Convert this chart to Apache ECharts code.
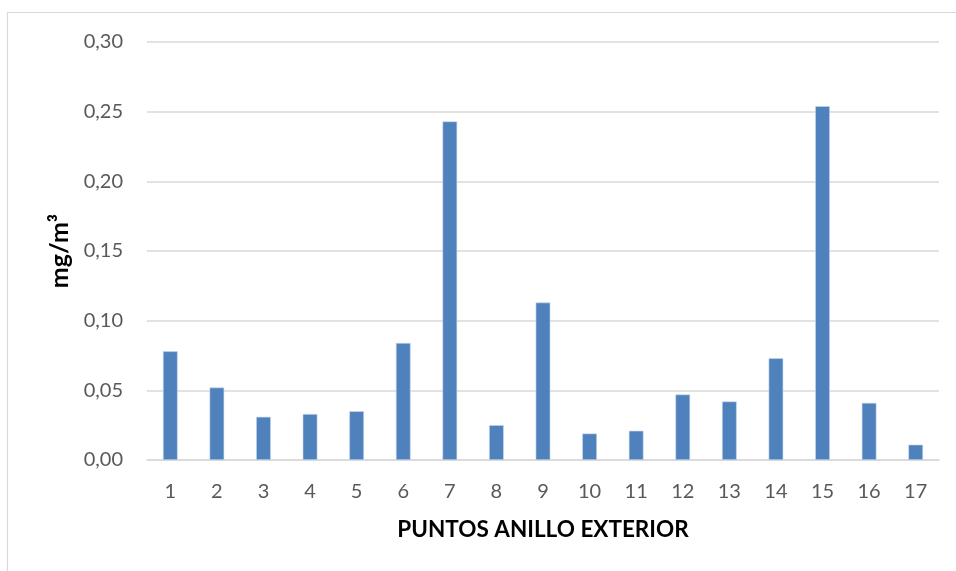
<!DOCTYPE html>
<html>
<head>
<meta charset="utf-8">
<script src="https://cdn.jsdelivr.net/npm/echarts@6/dist/echarts.min.js"></script>
<style>
  html, body { margin: 0; padding: 0; background: #fff; }
  #chart { width: 956px; height: 571px; }
</style>
</head>
<body>
<div id="chart"></div>
<script>
// Measurement points around the outer ring
const puntos = ['1','2','3','4','5','6','7','8','9','10','11','12','13','14','15','16','17'];
// Concentration at each point (mg/m³)
const concentracion = [0.078, 0.052, 0.031, 0.033, 0.035, 0.084, 0.243, 0.025, 0.113,
                       0.019, 0.021, 0.047, 0.042, 0.073, 0.254, 0.041, 0.011];
// Value axis range and step
const yMin = 0, yMax = 0.30, yStep = 0.05;

const chart = echarts.init(document.getElementById('chart'), null, { renderer: 'canvas' });
const font = 'Lato, "Open Sans", sans-serif';

chart.setOption({
  animation: false,
  backgroundColor: '#ffffff',
  graphic: [{
    type: 'rect',
    shape: { x: 7.5, y: 12.5, width: 1000, height: 700 },
    style: { fill: 'none', stroke: '#d9d9d9', lineWidth: 1.2 },
    silent: true,
    z: -1
  }],
  grid: { left: 147, right: 17, top: 42, bottom: 111, containLabel: false },
  xAxis: {
    type: 'category',
    data: puntos,
    name: 'PUNTOS ANILLO EXTERIOR',
    nameLocation: 'middle',
    nameGap: 58,
    nameTextStyle: { fontFamily: font, fontWeight: 'bold', fontSize: 22.5, color: '#000' },
    axisLine: { show: true, lineStyle: { color: '#d9d9d9', width: 1.5 } },
    axisTick: { show: false },
    axisLabel: { fontFamily: font, fontSize: 20, color: '#595959', margin: 22 }
  },
  yAxis: {
    type: 'value',
    min: yMin,
    max: yMax,
    interval: yStep,
    name: 'mg/m³',
    nameLocation: 'middle',
    nameGap: 70,
    nameRotate: 90,
    nameTextStyle: { fontFamily: font, fontWeight: 'bold', fontSize: 25, color: '#000' },
    axisLine: { show: false },
    axisTick: { show: false },
    splitLine: { lineStyle: { color: '#d9d9d9', width: 1.5 } },
    axisLabel: {
      fontFamily: font, fontSize: 20, color: '#595959', margin: 24,
      formatter: v => v.toFixed(2).replace('.', ',')
    }
  },
  series: [{
    type: 'bar',
    data: concentracion,
    barWidth: '31.5%',
    itemStyle: { color: '#4f81bd', borderColor: '#c9d9ee', borderWidth: 0.6 }
  }]
});
</script>
</body>
</html>
